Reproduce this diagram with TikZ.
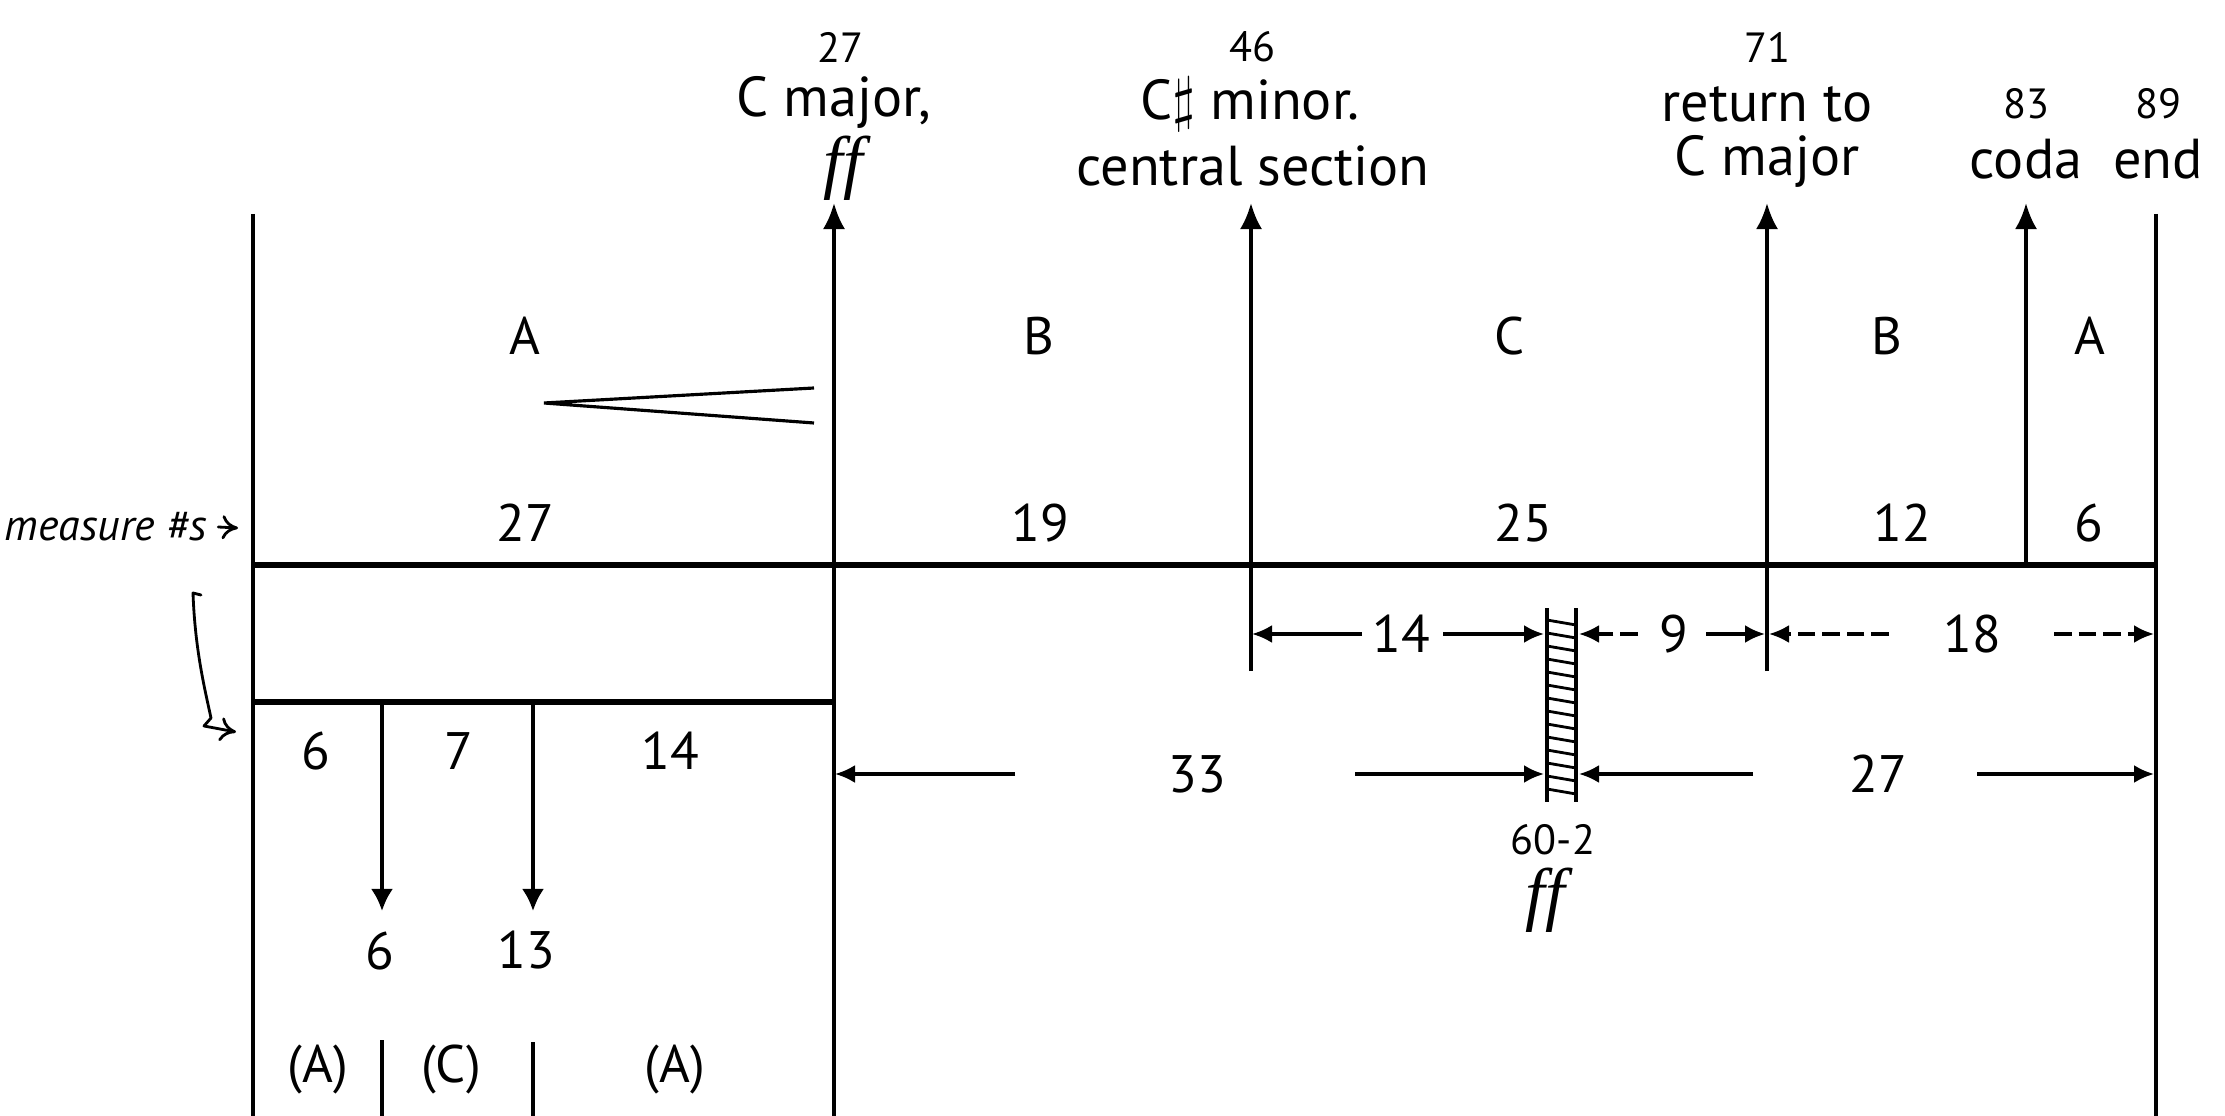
\documentclass[tikz,border=0pt]{standalone}
\usepackage{fontspec}
\setmainfont{PT Sans}
\newfontfamily\dynfont{Liberation Serif}
\usetikzlibrary{arrows.meta, positioning, calc}
\tikzset{
	barline/.style  ={line width=1pt},
	mainline/.style ={line width=1.5pt},
	uparrow/.style  ={line width=1pt, -{Latex[length=2.6mm, width=2.2mm]}},
	downarrow/.style={line width=1pt, -{Latex[length=2.2mm, width=2.2mm]}},
	dimarrow/.style ={line width=0.9pt, -{Latex[length=2mm, width=1.8mm]}},
	dimdash/.style  ={dimarrow, dash pattern=on 5pt off 2pt},
	handarrow/.style={line width=0.8pt, -{To[length=1.6mm, width=2.4mm]}, line cap=round, line join=round},
	bigtxt/.style   ={font=\fontsize{16}{18}\selectfont, inner sep=1pt},
	smalltxt/.style ={font=\fontsize{12}{14}\selectfont, inner sep=0pt},
	numtxt/.style   ={font=\fontsize{15}{17}\selectfont, inner sep=1pt},
	dyntxt/.style   ={font=\dynfont\itshape\fontsize{20}{22}\selectfont, inner sep=0pt},
}

\begin{document}
\begin{tikzpicture}[x=0.01cm, y=-0.01cm]
	\useasboundingbox (0,0) rectangle (2225,1116);
	% outer bars
	\coordinate (lT) at (253,214);   \coordinate (lB) at (253,1116);
	\coordinate (rT) at (2156,214);  \coordinate (rB) at (2156,1116);
	\draw[barline] (lT) -- (lB);
	\draw[barline] (rT) -- (rB);
	% measure line and sub-line
	\coordinate (mL) at (253,565);  \coordinate (mR) at (2156,565);
	\coordinate (sL) at (253,702);  \coordinate (sR) at (834,702);
	\draw[mainline] (mL) -- (mR);
	\draw[mainline] (sL) -- (sR);
	% arrows up to the landmarks
	\foreach \x/\n/\yb in {834/a/1116, 1251/b/671, 1767/c/671, 2026/d/565}{
		\coordinate (up\n b) at (\x,\yb);
		\coordinate (up\n t) at (\x,203);
		\draw[uparrow] (up\n b) -- (up\n t);
	}
	% landmark labels
	\node[smalltxt] (n27) at (840,47) {27};
	\node[bigtxt] (cmaj) at (834,102) {C major,};
	\node[dyntxt] (ffa) at (843,168) {ff};
	\node[smalltxt] (n46) at (1252,47) {46};
	\node[bigtxt] (csmin) at (1250,104) {C$\sharp$ minor.};
	\node[bigtxt] (cent) at (1253,166) {central section};
	\node[smalltxt] (n71) at (1767,47) {71};
	\node[bigtxt] (ret) at (1767,104) {return to};
	\node[bigtxt] (cmajb) at (1767,161) {C major};
	\node[smalltxt] (n83) at (2026,104) {83};
	\node[bigtxt] (coda) at (2026,159) {coda};
	\node[smalltxt] (n89) at (2158,104) {89};
	\node[bigtxt] (endl) at (2158,159) {end};
	% section letters
	\foreach \x/\s [count=\i] in {525/A, 1039/B, 1510/C, 1887/B, 2090/A}
		\node[numtxt] (sec\i) at (\x,336) {\s};
	% crescendo
	\coordinate (crA) at (544,403);
	\coordinate (crB) at (814,388);
	\coordinate (crC) at (814,423);
	\draw[line width=0.9pt] (crB) -- (crA) -- (crC);
	% measure counts
	\foreach \x/\m [count=\i] in {525/27, 1040/19, 1523/25, 1902/12, 2089/6}
		\node[numtxt] (cnt\i) at (\x,523) {\m};
	% sub-sections of A
	\node[numtxt] (sa) at (316,751) {6};
	\node[numtxt] (sb) at (459,751) {7};
	\node[numtxt] (sc) at (670,751) {14};
	\coordinate (dA) at (382,702);  \coordinate (dAe) at (382,911);
	\coordinate (dB) at (533,702);  \coordinate (dBe) at (533,911);
	\draw[downarrow] (dA) -- (dAe);
	\draw[downarrow] (dB) -- (dBe);
	\node[numtxt] (ma) at (380,951) {6};
	\node[numtxt] (mb) at (526,950) {13};
	\node[numtxt] (pa) at (318,1070) {(A)};
	\node[numtxt] (pc) at (451,1070) {(C)};
	\node[numtxt] (pa2) at (675,1070) {(A)};
	\coordinate (vA) at (382,1040);  \coordinate (vAe) at (382,1116);
	\coordinate (vB) at (533,1042);  \coordinate (vBe) at (533,1116);
	\draw[barline] (vA) -- (vAe);
	\draw[barline] (vB) -- (vBe);
	% climax bar
	\coordinate (hL) at (1547,608);  \coordinate (hLe) at (1547,802);
	\coordinate (hR) at (1576,608);  \coordinate (hRe) at (1576,802);
	\draw[barline] (hL) -- (hLe);
	\draw[barline] (hR) -- (hRe);
	\foreach \y in {620,633,...,790}
		\draw[line width=0.8pt] (1547,\y) -- (1576,\y+5);
	\node[smalltxt] (clim) at (1553,840) {60-2};
	\node[dyntxt] (ffb) at (1545,900) {ff};
	% spans, upper row
	\node[numtxt] (w14) at (1401,634) {14};
	\node[numtxt] (w9) at (1674,634) {9};
	\node[numtxt] (w18) at (1972,634) {18};
	\draw[dimarrow] (1362,634) coordinate (a1) -- (1252,634) coordinate (a1t);
	\draw[dimarrow] (1443,634) coordinate (a2) -- (1544,634) coordinate (a2t);
	\draw[dimdash] (1638,634) coordinate (a3) -- (1579,634) coordinate (a3t);
	\draw[dimarrow] (1706,634) coordinate (a4) -- (1765,634) coordinate (a4t);
	\draw[dimdash] (1889,634) coordinate (a5) -- (1769,634) coordinate (a5t);
	\draw[dimdash] (2054,634) coordinate (a6) -- (2154,634) coordinate (a6t);
	% spans, lower row
	\node[numtxt] (w33) at (1197,774) {33};
	\node[numtxt] (w27) at (1878,774) {27};
	\draw[dimarrow] (1015,774) coordinate (b1) -- (835,774) coordinate (b1t);
	\draw[dimarrow] (1355,774) coordinate (b2) -- (1544,774) coordinate (b2t);
	\draw[dimarrow] (1753,774) coordinate (b3) -- (1579,774) coordinate (b3t);
	\draw[dimarrow] (1977,774) coordinate (b4) -- (2154,774) coordinate (b4t);
	% handwritten note
	\node[font=\itshape\fontsize{12.5}{14}\selectfont, inner sep=1pt] (meas) at (106,527) {measure \#s};
	\coordinate (measpt) at (238,528);
	\draw[handarrow] ([xshift=2pt]meas.east) -- (measpt);
	\coordinate (hk1) at (201,595);
	\coordinate (hk2) at (236,732);
	\draw[handarrow] (hk1) -- (193,593) .. controls (195,650) and (205,690) .. (211,718) -- (204,726) -- (hk2);
\end{tikzpicture}
\end{document}
